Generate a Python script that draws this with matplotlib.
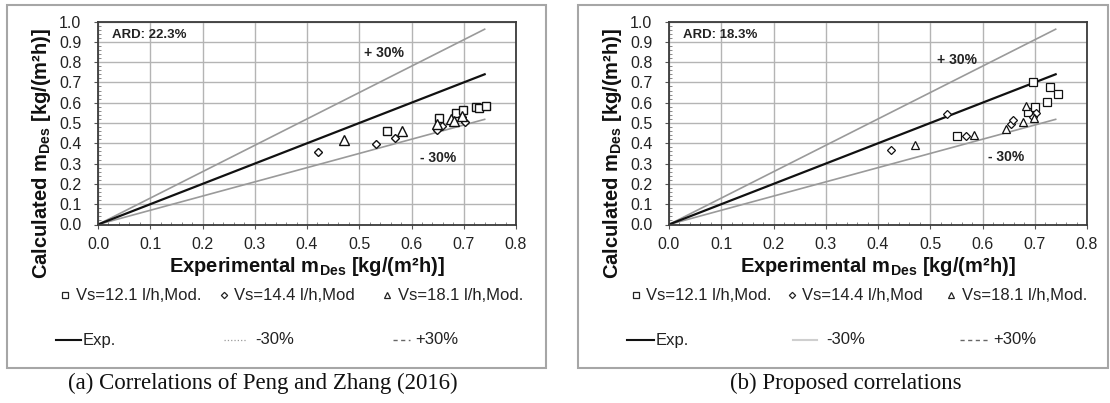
import matplotlib
matplotlib.use("Agg")
import matplotlib.pyplot as plt
from matplotlib.lines import Line2D
from matplotlib.patches import Rectangle
from matplotlib.ticker import MultipleLocator

plt.rcParams['font.family'] = ['Liberation Sans', 'DejaVu Sans']
plt.rcParams['mathtext.fontset'] = 'custom'
plt.rcParams['mathtext.rm'] = 'Liberation Sans'
plt.rcParams['mathtext.bf'] = 'Liberation Sans:bold'

# panel (a): correlations of Peng and Zhang (2016)
a_sq_x = [0.553, 0.652, 0.685, 0.699, 0.724, 0.730, 0.742]
a_sq_y = [0.460, 0.526, 0.551, 0.562, 0.579, 0.572, 0.584]
a_di_x = [0.422, 0.532, 0.568, 0.649, 0.658, 0.697, 0.703]
a_di_y = [0.358, 0.398, 0.426, 0.464, 0.485, 0.530, 0.505]
a_tr_x = [0.470, 0.581, 0.648, 0.675, 0.681, 0.696]
a_tr_y = [0.415, 0.460, 0.493, 0.518, 0.510, 0.534]

# panel (b): proposed correlations
b_sq_x = [0.552, 0.687, 0.700, 0.697, 0.723, 0.729, 0.745]
b_sq_y = [0.436, 0.556, 0.580, 0.703, 0.605, 0.675, 0.641]
b_di_x = [0.425, 0.532, 0.568, 0.654, 0.659, 0.702, 0.697]
b_di_y = [0.365, 0.543, 0.436, 0.495, 0.516, 0.551, 0.530]
b_tr_x = [0.471, 0.583, 0.645, 0.677, 0.684, 0.699]
b_tr_y = [0.390, 0.441, 0.470, 0.503, 0.585, 0.524]

line_x = [0.0, 0.74]
dev = 0.30
ard = ["ARD: 22.3%", "ARD: 18.3%"]
captions = ["(a) Correlations of Peng and Zhang (2016)", "(b) Proposed correlations"]
series_labels = ["Vs=12.1 l/h,Mod.", "Vs=14.4 l/h,Mod", "Vs=18.1 l/h,Mod."]
line_labels = ["Exp.", "-30%", "+30%"]

W, H = 1110, 403
fig = plt.figure(figsize=(W / 100, H / 100), dpi=100)


def fx(px):
    return px / W


def fy(py):
    return 1 - py / H


panels = [
    dict(left=98, box=(7, 546), sq=(a_sq_x, a_sq_y), di=(a_di_x, a_di_y), tr=(a_tr_x, a_tr_y),
         ard=ard[0], plus=(0.509, 0.845), minus=(0.617, 0.33), ms=1.0,
         cap_x=263, row1=[(65, 76), (224, 234), (387, 398)],
         row2=[(56, 81, 83), (224, 246, 255), (393, 410, 415)],
         minus_style=dict(color='#9a9a9a', ls=':', lw=0.9)),
    dict(left=669, box=(578, 1108), sq=(b_sq_x, b_sq_y), di=(b_di_x, b_di_y), tr=(b_tr_x, b_tr_y),
         ard=ard[1], plus=(0.513, 0.81), minus=(0.611, 0.333), ms=0.9,
         cap_x=846, row1=[(636, 646), (792, 802), (951, 962)],
         row2=[(627, 654, 656), (793, 817, 826), (960, 988, 993)],
         minus_style=dict(color='#cfcfcf', ls='-', lw=1.5)),
]

for i, p in enumerate(panels):
    # panel frame
    x0, x1 = p['box']
    fig.add_artist(Rectangle((fx(x0), fy(368)), fx(x1 - x0), (368 - 5) / H,
                             transform=fig.transFigure, fill=False, ec='#a6a6a6', lw=1.5))

    ax = fig.add_axes([fx(p['left']), fy(224.5), fx(418), 203 / H])
    ax.set_xlim(0, 0.8)
    ax.set_ylim(0, 1.0)
    ax.xaxis.set_major_locator(MultipleLocator(0.1))
    ax.yaxis.set_major_locator(MultipleLocator(0.1))
    ax.xaxis.set_minor_locator(MultipleLocator(0.02))
    ax.yaxis.set_minor_locator(MultipleLocator(0.02))
    ax.xaxis.set_major_formatter(plt.FormatStrFormatter('%.1f'))
    ax.yaxis.set_major_formatter(plt.FormatStrFormatter('%.1f'))
    ax.grid(True, which='major', color='#b4b4b4', lw=1.0)
    ax.set_axisbelow(True)
    ax.tick_params(which='major', direction='out', length=3, width=0.8, color='#555555',
                   labelsize=11.5, labelcolor='#222222')
    ax.tick_params(axis='x', which='major', pad=6)
    ax.tick_params(axis='y', which='major', pad=9)
    ax.tick_params(which='minor', direction='in', length=2.5, width=0.6, color='#777777')
    for s in ax.spines.values():
        s.set_color('#3a3a3a')
        s.set_linewidth(1.3)

    # reference lines
    ax.plot(line_x, [v * (1 + dev) for v in line_x], color='#9a9a9a', lw=1.2)
    ax.plot(line_x, [v * (1 - dev) for v in line_x], color='#9a9a9a', lw=1.2)
    ax.plot(line_x, line_x, color='#111111', lw=1.6)

    s = p['ms']
    ax.plot(*p['sq'], ls='none', marker='s', ms=6.4 * s, mfc='white', mec='#111111', mew=1.0 * s)
    ax.plot(*p['di'], ls='none', marker='D', ms=4.4 * s, mfc='white', mec='#111111', mew=1.0 * s)
    ax.plot(*p['tr'], ls='none', marker='^', ms=7.0 * s, mfc='white', mec='#111111', mew=1.0 * s)

    ax.text(0.027, 0.935, p['ard'], fontsize=9.5, fontweight='bold', va='center', color='#222222')
    ax.text(p['plus'][0], p['plus'][1], "+ 30%", fontsize=10, fontweight='bold', va='center', color='#222222')
    ax.text(p['minus'][0], p['minus'][1], "- 30%", fontsize=10, fontweight='bold', va='center', color='#222222')

    ax.set_xlabel(r"Experimental m$_{\mathbf{Des}}$ [kg/(m²h)]", fontsize=14.5,
                  fontweight='bold', color='#111111')
    ax.set_ylabel(r"Calculated m$_{\mathbf{Des}}$ [kg/(m²h)]", fontsize=14.5,
                  fontweight='bold', color='#111111')
    ax.xaxis.set_label_coords(0.5, -0.205)
    ax.yaxis.set_label_coords(-0.134, 0.35)
    ax.xaxis.label.set_va('center')
    ax.yaxis.label.set_va('center')

    # legend, row 1: markers
    for (mx, tx), mk, lab, msz in zip(p['row1'], ['s', 'D', '^'], series_labels, [4.5, 3.2, 5.0]):
        fig.add_artist(Line2D([fx(mx)], [fy(295)], transform=fig.transFigure, ls='none', marker=mk,
                              ms=msz, mfc='white', mec='#222222', mew=0.9))
        fig.text(fx(tx), fy(295), lab, fontsize=12, va='center', ha='left', color='#222222')
    # legend, row 2: lines
    styles = [dict(color='#111111', ls='-', lw=1.5), p['minus_style'],
              dict(color='#666666', ls=(0, (3, 2.5)), lw=1.0)]
    for (lx0, lx1, tx), st, lab in zip(p['row2'], styles, line_labels):
        fig.add_artist(Line2D([fx(lx0), fx(lx1)], [fy(340), fy(340)], transform=fig.transFigure, **st))
        fig.text(fx(tx), fy(340), lab, fontsize=12, va='center', ha='left', color='#222222')

    fig.text(fx(p['cap_x']), fy(383), captions[i], fontsize=16.5, family='Liberation Serif',
             ha='center', va='center', color='#111111')

fig.savefig("out.png", dpi=100)
